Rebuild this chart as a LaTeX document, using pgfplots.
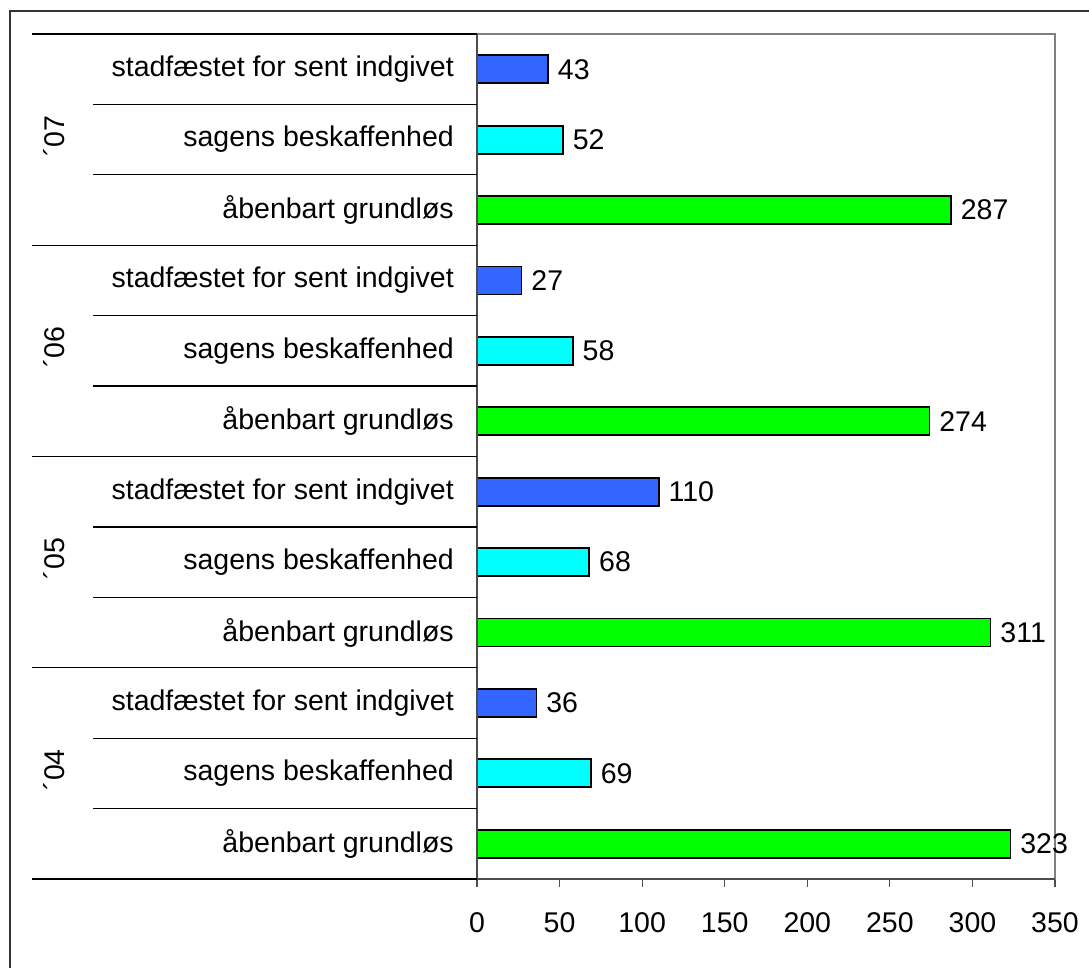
\documentclass[border=0pt]{standalone}
\usepackage{pgfplots}
\pgfplotsset{compat=1.18}
\usepackage{pgfplotstable}
\usepackage{fontspec}
\setmainfont{Liberation Sans}
\definecolor{barblue}{HTML}{3366FF}
\definecolor{barcyan}{HTML}{00FFFF}
\definecolor{bargreen}{HTML}{00FF00}
\definecolor{frame}{HTML}{808080}
\pgfplotstableread{
y v
2 36
5 110
8 27
11 43
}\tblue
\pgfplotstableread{
y v
1 69
4 68
7 58
10 52
}\tcyan
\pgfplotstableread{
y v
0 323
3 311
6 274
9 287
}\tgreen
\begin{document}
\begin{tikzpicture}[font=\fontsize{28.5pt}{34pt}\selectfont]
\useasboundingbox (-477pt,-88pt) rectangle (612pt,879pt);
\begin{axis}[
  at={(0pt,0pt)}, anchor=south west,
  scale only axis, width=578pt, height=845pt,
  xmin=0, xmax=350, ymin=-0.5, ymax=11.5,
  xbar, bar width=28pt, bar shift=0pt,
  clip=false,
  xtick={0,50,...,350}, xtick pos=bottom, tick align=outside,
  major tick length=8pt,
  x tick style={draw=black!70, line width=1.2pt},
  ytick={0,...,11},
  yticklabels={åbenbart grundløs, sagens beskaffenhed, stadfæstet for sent indgivet,
               åbenbart grundløs, sagens beskaffenhed, stadfæstet for sent indgivet,
               åbenbart grundløs, sagens beskaffenhed, stadfæstet for sent indgivet,
               åbenbart grundløs, sagens beskaffenhed, stadfæstet for sent indgivet},
  y tick style={draw=none},
  yticklabel style={anchor=east, inner sep=0pt, xshift=-15pt},
  xticklabel style={anchor=north, inner sep=0pt, yshift=-25pt},
  /pgf/number format/assume math mode=true,
  scaled ticks=false,
  axis line style={draw=frame, line width=1.5pt},
  nodes near coords, nodes near coords align=horizontal,
  every node near coord/.append style={anchor=west, inner sep=0pt, xshift=9pt, text=black},
]
\addplot[fill=barblue, draw=black, line width=1.8pt] table[x=v,y=y]{\tblue};
\addplot[fill=barcyan, draw=black, line width=1.8pt] table[x=v,y=y]{\tcyan};
\addplot[fill=bargreen, draw=black, line width=1.8pt] table[x=v,y=y]{\tgreen};
% left and bottom axis lines darker
\draw[black!70, line width=1.5pt] (axis cs:0,11.5) -- (axis cs:0,-0.5) -- ([yshift=-8pt]axis cs:0,-0.5);
\draw[black!70, line width=1.5pt] (axis cs:0,-0.5) -- (axis cs:350,-0.5);
% separators
\draw[black, line width=1.2pt] ([xshift=-445pt]axis cs:0,-0.5) -- (axis cs:0,-0.5);
\draw[black, line width=1.2pt] ([xshift=-384pt]axis cs:0,0.5) -- (axis cs:0,0.5);
\draw[black, line width=1.2pt] ([xshift=-384pt]axis cs:0,1.5) -- (axis cs:0,1.5);
\draw[black, line width=1.2pt] ([xshift=-445pt]axis cs:0,2.5) -- (axis cs:0,2.5);
\draw[black, line width=1.2pt] ([xshift=-384pt]axis cs:0,3.5) -- (axis cs:0,3.5);
\draw[black, line width=1.2pt] ([xshift=-384pt]axis cs:0,4.5) -- (axis cs:0,4.5);
\draw[black, line width=1.2pt] ([xshift=-445pt]axis cs:0,5.5) -- (axis cs:0,5.5);
\draw[black, line width=1.2pt] ([xshift=-384pt]axis cs:0,6.5) -- (axis cs:0,6.5);
\draw[black, line width=1.2pt] ([xshift=-384pt]axis cs:0,7.5) -- (axis cs:0,7.5);
\draw[black, line width=1.2pt] ([xshift=-445pt]axis cs:0,8.5) -- (axis cs:0,8.5);
\draw[black, line width=1.2pt] ([xshift=-384pt]axis cs:0,9.5) -- (axis cs:0,9.5);
\draw[black, line width=1.2pt] ([xshift=-384pt]axis cs:0,10.5) -- (axis cs:0,10.5);
\draw[black, line width=1.2pt] ([xshift=-445pt]axis cs:0,11.5) -- (axis cs:0,11.5);
% group labels
\node[rotate=90] at ([xshift=-423pt]axis cs:0,1.05) {´04};
\node[rotate=90] at ([xshift=-423pt]axis cs:0,4.05) {´05};
\node[rotate=90] at ([xshift=-423pt]axis cs:0,7.05) {´06};
\node[rotate=90] at ([xshift=-423pt]axis cs:0,10.05) {´07};
\end{axis}
\draw[black!80, line width=2pt] (-467pt,-100pt) -- (-467pt,868pt) -- (700pt,868pt);
\end{tikzpicture}
\end{document}
